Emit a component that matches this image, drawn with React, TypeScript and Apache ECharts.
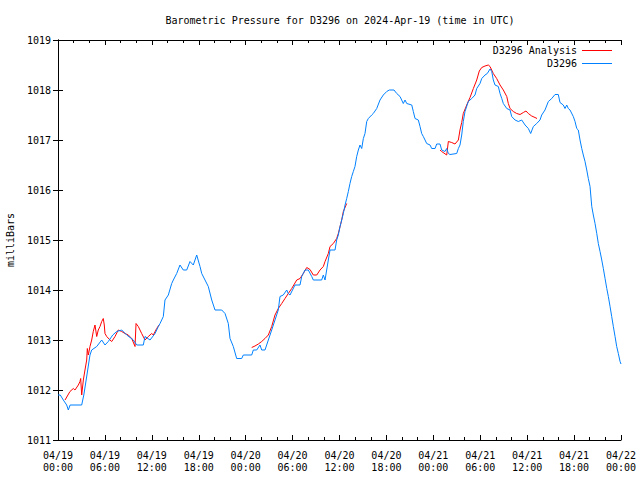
import React, { useEffect, useRef } from "react";
import * as echarts from "echarts";

const chartTitle = "Barometric Pressure for D3296 on 2024-Apr-19 (time in UTC)";
const yAxisName = "milliBars";
const obsName = "D3296";
const anaName = "D3296 Analysis";
const startMonth = "04";
const startDay = 19;
const hourMin = 0;
const hourMax = 72;
const pMin = 1011;
const pMax = 1019;

// D3296 observations: [hours since 04/19 00:00 UTC, mbar]
const obs: [number, number][] = [
  [0, 1011.9], [0.29, 1011.9], [0.68, 1011.8], [1.11, 1011.7], [1.32, 1011.6], [1.55, 1011.7],
  [1.79, 1011.7], [3.03, 1011.7], [3.3, 1011.9], [3.7, 1012.3], [4.09, 1012.7], [4.31, 1012.8],
  [4.95, 1012.87], [5.59, 1013.0], [6.01, 1012.9], [6.43, 1012.97], [7.0, 1013.1], [7.51, 1013.17],
  [8.15, 1013.2], [8.79, 1013.1], [9.63, 1013.0], [10.07, 1012.9], [10.91, 1012.9], [11.13, 1013.07],
  [11.77, 1013.0], [12.41, 1013.13], [12.83, 1013.27], [13.05, 1013.33], [13.47, 1013.47], [13.68, 1013.8],
  [14.11, 1013.9], [14.54, 1014.13], [14.75, 1014.2], [15.18, 1014.33], [15.6, 1014.5], [16.02, 1014.4],
  [16.46, 1014.4], [16.88, 1014.57], [17.3, 1014.5], [17.74, 1014.7], [18.16, 1014.47], [18.38, 1014.33],
  [18.8, 1014.2], [19.22, 1014.07], [19.66, 1013.8], [20.08, 1013.6], [20.94, 1013.6], [21.36, 1013.53],
  [21.78, 1013.33], [22.0, 1013.03], [22.42, 1012.87], [22.85, 1012.63], [23.49, 1012.63], [23.7, 1012.7],
  [24.77, 1012.7], [24.98, 1012.8], [25.41, 1012.8], [25.83, 1012.9], [26.05, 1012.8], [26.47, 1012.8],
  [26.9, 1013.0], [27.33, 1013.2], [27.75, 1013.4], [28.17, 1013.6], [28.39, 1013.87], [28.81, 1013.9],
  [29.25, 1014.0], [29.45, 1013.93], [29.67, 1013.9], [30.31, 1014.1], [30.95, 1014.1], [31.17, 1014.27],
  [31.59, 1014.4], [32.01, 1014.4], [32.45, 1014.27], [32.65, 1014.2], [33.72, 1014.2], [33.93, 1014.3],
  [34.15, 1014.2], [34.36, 1014.4], [34.57, 1014.6], [34.79, 1014.8], [35.43, 1014.8], [35.64, 1015.0],
  [35.85, 1015.1], [36.07, 1015.27], [36.28, 1015.4], [36.49, 1015.53], [36.71, 1015.7], [36.92, 1015.83],
  [37.13, 1015.97], [37.34, 1016.13], [37.56, 1016.27], [37.77, 1016.37], [37.98, 1016.47], [38.2, 1016.67],
  [38.41, 1016.8], [38.62, 1016.9], [38.84, 1016.83], [39.05, 1017.03], [39.26, 1017.13], [39.48, 1017.37],
  [39.69, 1017.43], [40.12, 1017.5], [40.32, 1017.53], [40.76, 1017.63], [41.18, 1017.8], [41.6, 1017.9],
  [42.04, 1017.97], [42.37, 1018.0], [42.97, 1018.0], [43.32, 1017.93], [43.74, 1017.87], [44.16, 1017.73],
  [44.38, 1017.8], [44.6, 1017.73], [45.24, 1017.7], [45.44, 1017.57], [45.66, 1017.43], [46.08, 1017.4],
  [46.3, 1017.27], [46.51, 1017.13], [46.72, 1017.07], [46.94, 1017.0], [47.15, 1016.93], [47.58, 1016.9],
  [47.79, 1016.83], [48.22, 1016.83], [48.43, 1016.92], [48.85, 1016.92], [49.07, 1016.8], [49.49, 1016.77],
  [49.71, 1016.83], [49.92, 1016.73], [50.13, 1016.71], [50.99, 1016.73], [51.2, 1016.83], [51.41, 1016.9],
  [51.63, 1017.1], [51.83, 1017.37], [52.05, 1017.57], [52.47, 1017.77], [52.91, 1017.83], [53.33, 1017.9],
  [53.55, 1018.03], [53.97, 1018.13], [54.19, 1018.23], [54.61, 1018.3], [54.9, 1018.33], [55.25, 1018.42],
  [55.47, 1018.37], [55.67, 1018.2], [55.89, 1018.1], [56.31, 1018.07], [56.53, 1017.93], [56.75, 1017.83],
  [56.95, 1017.73], [57.39, 1017.63], [57.81, 1017.6], [58.02, 1017.47], [58.45, 1017.4], [58.87, 1017.37],
  [59.3, 1017.4], [59.73, 1017.3], [60.15, 1017.23], [60.45, 1017.13], [60.79, 1017.27], [61.22, 1017.33],
  [61.64, 1017.4], [61.86, 1017.5], [62.28, 1017.6], [62.71, 1017.77], [63.14, 1017.83], [63.56, 1017.91],
  [63.98, 1017.91], [64.2, 1017.75], [64.62, 1017.7], [64.84, 1017.63], [65.06, 1017.7], [65.26, 1017.63],
  [65.48, 1017.6], [65.9, 1017.47], [66.12, 1017.37], [66.34, 1017.23], [66.54, 1017.2], [66.76, 1017.0],
  [66.98, 1016.83], [67.18, 1016.7], [67.4, 1016.57], [67.62, 1016.4], [67.82, 1016.23], [68.04, 1016.07],
  [68.26, 1015.67], [68.46, 1015.5], [68.68, 1015.33], [68.9, 1015.13], [69.1, 1014.93], [69.32, 1014.77],
  [69.54, 1014.6], [69.74, 1014.43], [69.96, 1014.23], [70.18, 1014.03], [70.38, 1013.87], [70.6, 1013.67],
  [70.81, 1013.47], [71.02, 1013.27], [71.24, 1013.07], [71.45, 1012.87], [71.66, 1012.73], [71.88, 1012.57],
  [72.0, 1012.52],
];

// D3296 Analysis (three runs, separated by gaps)
const anaRun1: [number, number][] = [
  [0.9, 1011.8], [1.53, 1011.97], [1.96, 1012.03], [2.17, 1012.0], [2.6, 1012.1], [2.81, 1012.17],
  [2.9, 1012.23], [3.03, 1011.9], [3.24, 1012.2], [3.45, 1012.4], [3.67, 1012.6], [3.75, 1012.83],
  [3.88, 1012.7], [4.09, 1012.87], [4.31, 1013.0], [4.51, 1013.17], [4.73, 1013.3], [4.95, 1013.07],
  [5.15, 1013.2], [5.37, 1013.27], [5.59, 1013.37], [5.79, 1013.43], [5.92, 1013.3], [6.01, 1013.13],
  [6.23, 1013.07], [6.65, 1013.0], [6.87, 1012.97], [7.29, 1013.07], [7.71, 1013.2], [8.15, 1013.17],
  [8.57, 1013.13], [8.99, 1013.1], [9.43, 1013.03], [9.85, 1012.87], [9.98, 1013.33], [10.27, 1013.27],
  [10.7, 1013.13], [11.13, 1013.0], [11.55, 1013.07], [11.98, 1013.13], [12.19, 1013.1], [12.62, 1013.23],
  [12.92, 1013.3],
];
const anaRun2: [number, number][] = [
  [24.77, 1012.85], [25.19, 1012.88], [25.62, 1012.92], [26.05, 1012.97], [26.47, 1013.03], [26.9, 1013.1],
  [27.33, 1013.27], [27.75, 1013.5], [28.17, 1013.63], [28.61, 1013.73], [29.03, 1013.83], [29.45, 1013.93],
  [29.89, 1014.03], [30.53, 1014.2], [30.95, 1014.23], [31.37, 1014.33], [31.81, 1014.45], [32.23, 1014.41],
  [32.65, 1014.3], [33.09, 1014.3], [33.51, 1014.4], [33.93, 1014.47], [34.15, 1014.57], [34.57, 1014.73],
  [34.79, 1014.87], [35.21, 1014.93], [35.64, 1015.03], [35.85, 1015.13], [36.28, 1015.4], [36.49, 1015.57],
  [36.92, 1015.73],
];
const anaRun3: [number, number][] = [
  [48.85, 1016.8], [49.07, 1016.77], [49.71, 1016.7], [49.92, 1016.97], [50.35, 1016.95], [50.77, 1016.92],
  [51.2, 1017.0], [51.41, 1017.2], [51.63, 1017.35], [51.83, 1017.53], [52.27, 1017.7], [52.69, 1017.85],
  [53.12, 1018.03], [53.55, 1018.2], [53.88, 1018.38], [54.19, 1018.45], [54.61, 1018.48], [55.03, 1018.5],
  [55.25, 1018.47], [55.67, 1018.33], [56.1, 1018.23], [56.53, 1018.1], [56.95, 1018.0], [57.39, 1017.87],
  [57.59, 1017.73], [57.81, 1017.63], [58.23, 1017.57], [58.66, 1017.53], [59.09, 1017.51], [59.51, 1017.55],
  [59.85, 1017.58], [60.15, 1017.53], [60.58, 1017.48], [61.0, 1017.45], [61.26, 1017.43],
];

const FONT = "'DejaVu Sans Mono', 'Liberation Mono', monospace";
const pad = (n: number) => (n < 10 ? "0" + n : String(n));

function fmtX(h: number): string {
  const day = startDay + Math.floor(h / 24);
  const hh = Math.round(h % 24);
  return `${startMonth}/${pad(day)}\n${pad(hh)}:00`;
}

export default function App() {
  const ref = useRef<HTMLDivElement>(null);
  useEffect(() => {
    if (!ref.current) return;
    const chart = echarts.init(ref.current, undefined, { renderer: "svg" });
    const gap = (a: [number, number][], b: [number, number][]) => [
      (a[a.length - 1][0] + b[0][0]) / 2,
      "-",
    ];
    const anaData: any[] = [
      ...anaRun1,
      gap(anaRun1, anaRun2),
      ...anaRun2,
      gap(anaRun2, anaRun3),
      ...anaRun3,
    ];
    const axisLine = { show: true, lineStyle: { color: "#000", width: 1 } };
    const xCommon = {
      type: "value" as const,
      min: hourMin,
      max: hourMax,
      interval: 6,
      axisLine,
      axisTick: { show: true, inside: true, length: 5, lineStyle: { color: "#000" } },
      minorTick: { show: true, splitNumber: 3, length: 3, lineStyle: { color: "#000" } },
      splitLine: { show: false },
      minorSplitLine: { show: false },
    };
    const yCommon = {
      type: "value" as const,
      min: pMin,
      max: pMax,
      interval: 1,
      axisLine,
      axisTick: { show: true, inside: true, length: 5, lineStyle: { color: "#000" } },
      splitLine: { show: false },
    };
    const legendCommon = {
      orient: "vertical" as const,
      align: "right" as const,
      right: 28,
      itemWidth: 30,
      itemHeight: 1,
      icon: "rect",
      selectedMode: false,
      padding: 0,
      textStyle: { fontFamily: FONT, fontSize: 10, color: "#000" },
    };
    chart.setOption({
      animation: false,
      backgroundColor: "#fff",
      grid: { left: 58, right: 19, top: 40, bottom: 40, containLabel: false },
      graphic: [
        {
          type: "text",
          x: 340,
          y: 20,
          style: {
            text: chartTitle,
            fontFamily: FONT,
            fontSize: 10,
            fill: "#000",
            textAlign: "center",
            textVerticalAlign: "middle",
          },
        },
        {
          type: "text",
          x: 10,
          y: 240,
          rotation: Math.PI / 2,
          style: {
            text: yAxisName,
            fontFamily: FONT,
            fontSize: 10,
            fill: "#000",
            textAlign: "center",
            textVerticalAlign: "middle",
          },
        },
      ],
      legend: [
        { ...legendCommon, top: 45.5, data: [anaName] },
        { ...legendCommon, top: 58.5, data: [obsName] },
      ],
      xAxis: [
        {
          ...xCommon,
          position: "bottom",
          axisLabel: {
            show: true,
            margin: 9,
            fontFamily: FONT,
            fontSize: 10,
            lineHeight: 12,
            color: "#000",
            formatter: (v: number) => fmtX(v),
          },
        },
        { ...xCommon, position: "top", axisLabel: { show: false } },
      ],
      yAxis: [
        {
          ...yCommon,
          position: "left",
          axisLabel: {
            show: true,
            margin: 7,
            fontFamily: FONT,
            fontSize: 10,
            color: "#000",
            formatter: (v: number) => String(v),
          },
        },
        { ...yCommon, position: "right", axisLabel: { show: false } },
      ],
      series: [
        {
          name: anaName,
          type: "line",
          data: anaData,
          xAxisIndex: 0,
          yAxisIndex: 0,
          symbol: "none",
          showSymbol: false,
          connectNulls: false,
          lineStyle: { color: "#ff0000", width: 1 },
          itemStyle: { color: "#ff0000" },
        },
        {
          name: obsName,
          type: "line",
          data: obs,
          xAxisIndex: 0,
          yAxisIndex: 0,
          symbol: "none",
          showSymbol: false,
          lineStyle: { color: "#0080ff", width: 1 },
          itemStyle: { color: "#0080ff" },
        },
      ],
    });
    return () => chart.dispose();
  }, []);
  return (
    <div
      ref={ref}
      style={{ position: "fixed", left: 0, top: 0, width: 640, height: 480, background: "#fff" }}
    />
  );
}
